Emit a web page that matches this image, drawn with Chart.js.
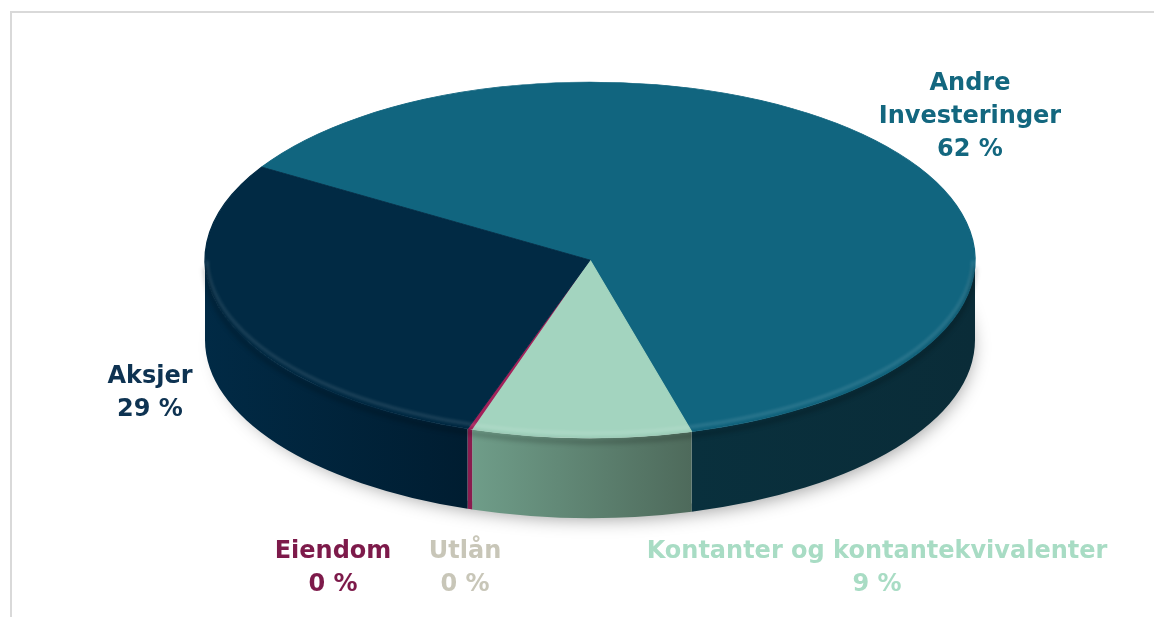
<!DOCTYPE html>
<html>
<head>
<meta charset="utf-8">
<script src="https://cdn.jsdelivr.net/npm/chart.js"></script>
<style>
  html, body { margin: 0; padding: 0; background: #fff; }
  #wrap { position: absolute; left: 0; top: 0; width: 1154px; height: 617px; overflow: hidden; }
  .frame { position: absolute; left: 10px; top: 11px; width: 1200px; height: 700px;
           border-left: 2px solid #d9d9d9; border-top: 2px solid #d9d9d9; }
  canvas { position: absolute; left: 0; top: 0; }
</style>
</head>
<body>
<div id="wrap">
  <div class="frame"></div>
  <canvas id="pie" width="1154" height="617"></canvas>
</div>
<script>
// data
const categories = ['Andre Investeringer', 'Kontanter og kontantekvivalenter', 'Utlån', 'Eiendom', 'Aksjer'];
const shares = [62.0, 9.2, 0.0, 0.2, 28.6];

// styling
const topColors = ['#11657f', '#a3d4bf', '#c8c6b8', '#a3215a', '#012a44'];
const sideColors = [['#09303d', '#0a2c38'], ['#6f9d89', '#4e6a5b'], ['#a9a79b', '#a9a79b'], ['#8a1c4e', '#8a1c4e'], ['#012a45', '#001d31']];
const labelColors = ['#13677f', '#a8dcc4', '#c8c6b8', '#7d1a4a', '#0e3352'];
const labelLines = [['Andre', 'Investeringer'], ['Kontanter og kontantekvivalenter'], ['Utlån'], ['Eiendom'], ['Aksjer']];
const labelPos = [[970, 84], [877, 552], [465, 552], [333, 552], [150, 377]];

const CX = 590, CY = 260, RX = 385, RY = 178, DEPTH = 80;

function pct(v) {
  return Math.round(v) + ' %';
}

const pie3d = {
  id: 'pie3d',
  beforeDatasetsDraw(chart) {
    const ctx = chart.ctx;
    const arcs = chart.getDatasetMeta(0).data;
    const ox = arcs[0].x, oy = arcs[0].y, r = arcs[0].outerRadius;

    // soft shadow under the pie
    ctx.save();
    ctx.beginPath();
    ctx.ellipse(CX, CY + DEPTH - 2, RX - 8, RY - 6, 0, 0, Math.PI * 2);
    ctx.shadowColor = 'rgba(0,0,0,0.38)';
    ctx.shadowBlur = 18;
    ctx.shadowOffsetX = 5;
    ctx.shadowOffsetY = 9;
    ctx.fillStyle = '#fff';
    ctx.fill();
    ctx.restore();

    // side walls, front half only
    arcs.forEach((arc, i) => {
      const s = arc.startAngle, e = arc.endAngle;
      for (let k = -1; k <= 2; k++) {
        const lo = Math.max(s, 2 * Math.PI * k);
        const hi = Math.min(e, 2 * Math.PI * k + Math.PI);
        if (hi - lo <= 0.0001) continue;
        const xl = CX + RX * Math.cos(hi), xr = CX + RX * Math.cos(lo);
        const g = ctx.createLinearGradient(xl, 0, xr + 0.01, 0);
        g.addColorStop(0, sideColors[i][0]);
        g.addColorStop(1, sideColors[i][1]);
        ctx.save();
        ctx.beginPath();
        ctx.ellipse(CX, CY, RX, RY, 0, lo, hi);
        ctx.ellipse(CX, CY + DEPTH, RX, RY, 0, hi, lo, true);
        ctx.closePath();
        ctx.fillStyle = g;
        ctx.fill();
        ctx.restore();
      }
    });

    // top face: squash library circle into ellipse
    ctx.save();
    ctx.translate(CX, CY);
    ctx.scale(RX / r, RY / r);
    ctx.translate(-ox, -oy);
  },
  afterDatasetsDraw(chart) {
    const ctx = chart.ctx;
    ctx.restore();

    // bevel highlight along the front rim of the top face
    ctx.save();
    ctx.beginPath();
    ctx.ellipse(CX, CY - 3, RX - 2, RY - 2, 0, 0.02, Math.PI - 0.02);
    ctx.strokeStyle = 'rgba(255,255,255,0.12)';
    ctx.lineWidth = 3;
    ctx.filter = 'blur(1.5px)';
    ctx.stroke();
    ctx.restore();
    ctx.save();
    ctx.beginPath();
    ctx.ellipse(CX, CY + 4, RX, RY, 0, 0.02, Math.PI - 0.02);
    ctx.strokeStyle = 'rgba(0,0,0,0.18)';
    ctx.lineWidth = 5;
    ctx.filter = 'blur(2px)';
    ctx.stroke();
    ctx.restore();

    // labels
    ctx.save();
    ctx.font = 'bold 24px "DejaVu Sans"';
    ctx.textAlign = 'center';
    ctx.textBaseline = 'middle';
    categories.forEach((c, i) => {
      const lines = labelLines[i].concat([pct(shares[i])]);
      ctx.fillStyle = labelColors[i];
      lines.forEach((t, j) => {
        ctx.fillText(t, labelPos[i][0], labelPos[i][1] + j * 33);
      });
    });
    ctx.restore();
  }
};

new Chart(document.getElementById('pie'), {
  type: 'pie',
  data: {
    labels: categories,
    datasets: [{
      data: shares,
      backgroundColor: topColors,
      borderColor: topColors,
      borderWidth: [1, 1, 0, 0, 1]
    }]
  },
  options: {
    responsive: false,
    animation: false,
    rotation: -58.5,
    layout: { padding: 20 },
    plugins: {
      legend: { display: false },
      tooltip: { enabled: false }
    }
  },
  plugins: [pie3d]
});
</script>
</body>
</html>
